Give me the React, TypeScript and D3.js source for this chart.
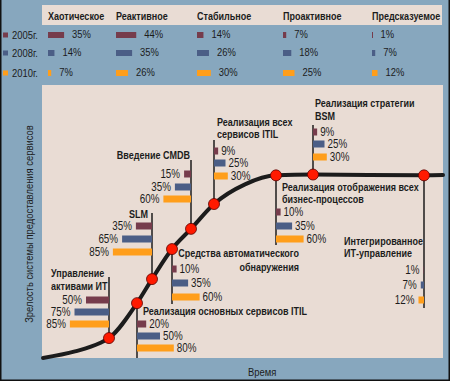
import React from 'react';
import * as d3 from 'd3';

// ---------- DATA ----------
const categories = ['Хаотическое', 'Реактивное', 'Стабильное', 'Проактивное', 'Предсказуемое'];
const years = ['2005г.', '2008г.', '2010г.'];
const share2005 = [35, 44, 14, 7, 1];
const share2008 = [14, 35, 26, 18, 7];
const share2010 = [7, 26, 30, 25, 12];

// S-curve of maturity over time (time 0..100, maturity 0..100)
const curveTime = [0, 8, 14.25, 16.5, 23.5, 27.25, 32.25, 37, 42.75, 50.5, 58.25, 67.5, 95.25, 100];
const curveLevel = [0, 2.4, 5.5, 7.3, 20.1, 28.9, 39.9, 47.3, 56.4, 63.6, 66.9, 67.2, 66.9, 67.0];

const milestoneTitles = [
  ['Управление', 'активами ИТ'],
  ['Реализация основных сервисов ITIL'],
  ['SLM'],
  ['Средства автоматического', 'обнаружения'],
  ['Введение CMDB'],
  ['Реализация всех', 'сервисов ITIL'],
  ['Реализация отображения всех', 'бизнес-процессов'],
  ['Реализация стратегии', 'BSM'],
  ['Интегрированное', 'ИТ-управление'],
];
const milestoneTime = [16.5, 23.5, 27.25, 32.25, 37, 42.75, 58.25, 67.5, 95.25];
const milestoneLevel = [7.3, 20.1, 28.9, 39.9, 47.3, 56.4, 66.9, 67.2, 66.9];
const milestone2005 = [50, 20, 35, 10, 15, 9, 10, 9, 1];
const milestone2008 = [75, 50, 65, 35, 35, 25, 35, 25, 7];
const milestone2010 = [85, 80, 85, 60, 60, 30, 60, 30, 12];

// ---------- LAYOUT (pixels, not data) ----------
const W = 450;
const H = 381;
const PANEL = { x: 42, y: 85, w: 401, h: 273 };
const HEADER = { x: 42, y: 5, w: 400, h: 20 };
const LEGEND_COL_X = [48, 116, 197, 283, 372];
const LEGEND_ROW_Y = [35, 53, 73];

type Side = 'left' | 'right';
const LAYOUT: { side: Side; stemTo: number; rows: number[]; tx: number; ty: number[]; anchor: string }[] = [
  { side: 'left', stemTo: 277, rows: [300, 312, 324], tx: 51, ty: [273, 286], anchor: 'start' },
  { side: 'right', stemTo: 358, rows: [324, 336, 348], tx: 143, ty: [311], anchor: 'start' },
  { side: 'left', stemTo: 213, rows: [226, 239, 252], tx: 148, ty: [214], anchor: 'end' },
  { side: 'right', stemTo: 304, rows: [269, 283, 297], tx: 299, ty: [253, 267], anchor: 'end' },
  { side: 'left', stemTo: 160, rows: [174, 187, 199], tx: 190, ty: [155], anchor: 'end' },
  { side: 'right', stemTo: 140, rows: [151, 163, 176], tx: 217, ty: [122, 134], anchor: 'start' },
  { side: 'right', stemTo: 245, rows: [212, 226, 239], tx: 282, ty: [187, 199], anchor: 'start' },
  { side: 'right', stemTo: 125, rows: [132, 144, 157], tx: 315, ty: [103, 116], anchor: 'start' },
  { side: 'left', stemTo: 308, rows: [270, 285, 300], tx: 344, ty: [241, 253], anchor: 'start' },
];

const COLORS = ['#763C4C', '#4B5E86', '#FF9E1B'];
const BG = '#87A7BE';
const BEIGE = '#E9DCD4';
const INK = '#1c1c1c';
const FONT = "'Liberation Sans', Arial, sans-serif";
const NARROW = 0.82;

function T(props: {
  x: number;
  y: number;
  size?: number;
  bold?: boolean;
  anchor?: string;
  rotate?: number;
  children: React.ReactNode;
}) {
  const { x, y, size = 11, bold = false, anchor = 'start', rotate = 0, children } = props;
  return (
    <text
      transform={`translate(${x},${y})${rotate ? ` rotate(${rotate})` : ''} scale(${NARROW},1)`}
      dominantBaseline="central"
      textAnchor={anchor as any}
      fontSize={size}
      fontWeight={bold ? 'bold' : 'normal'}
      fill={INK}
    >
      {children}
    </text>
  );
}

export default function App() {
  const x = d3.scaleLinear().domain([0, 100]).range([PANEL.x + 1, PANEL.x + PANEL.w]);
  const y = d3.scaleLinear().domain([0, 100]).range([PANEL.y + PANEL.h, PANEL.y]);
  const bw = d3.scaleLinear().domain([0, 100]).range([0, 46]);

  const curvePts: [number, number][] = curveTime.map((t, i) => [t, curveLevel[i]]);
  const line = d3
    .line<[number, number]>()
    .x((d) => x(d[0]))
    .y((d) => y(d[1]))
    .curve(d3.curveMonotoneX);

  const legendSeries = [share2005, share2008, share2010];
  const msSeries = [milestone2005, milestone2008, milestone2010];

  return (
    <svg
      width={W}
      height={H}
      viewBox={`0 0 ${W} ${H}`}
      style={{ position: 'absolute', left: 0, top: 0, display: 'block' }}
      fontFamily={FONT}
    >
      <rect x={0} y={0} width={W} height={H} fill={BG} />
      {/* header */}
      <rect x={HEADER.x} y={HEADER.y} width={HEADER.w} height={HEADER.h} fill={BEIGE} />
      {categories.map((c, i) => (
        <T key={c} x={LEGEND_COL_X[i]} y={HEADER.y + HEADER.h / 2 + 1} bold>
          {c}
        </T>
      ))}
      {/* legend rows */}
      {years.map((yr, r) => (
        <g key={yr}>
          <rect x={3} y={LEGEND_ROW_Y[r] - 2.5} width={5} height={5} fill={COLORS[r]} />
          <T x={12} y={LEGEND_ROW_Y[r]} size={11.5}>
            {yr}
          </T>
          {legendSeries[r].map((v, i) => (
            <g key={i}>
              <rect x={LEGEND_COL_X[i]} y={LEGEND_ROW_Y[r] - 3} width={Math.max(1, bw(v))} height={6} fill={COLORS[r]} />
              <T x={LEGEND_COL_X[i] + bw(v) + 8} y={LEGEND_ROW_Y[r] - 1} size={11.5}>
                {v}%
              </T>
            </g>
          ))}
        </g>
      ))}
      {/* main panel */}
      <rect x={PANEL.x} y={PANEL.y} width={PANEL.w} height={PANEL.h} fill={BEIGE} />
      <path d={line(curvePts) || ''} fill="none" stroke={INK} strokeWidth={4} strokeLinecap="round" />
      {milestoneTitles.map((title, i) => {
        const L = LAYOUT[i];
        const sx = x(milestoneTime[i]);
        const sy = y(milestoneLevel[i]);
        return (
          <g key={i}>
            <line x1={sx} x2={sx} y1={sy} y2={L.stemTo} stroke={INK} strokeWidth={1.5} />
            {msSeries.map((s, r) => {
              const w = bw(s[i]);
              const by = L.rows[r];
              const bx = L.side === 'left' ? sx - w : sx;
              const lx = L.side === 'left' ? sx - w - 4 : sx + w + 3;
              return (
                <g key={r}>
                  <rect x={bx} y={by - 3.5} width={w} height={7} fill={COLORS[r]} />
                  <T x={lx} y={by} size={12} anchor={L.side === 'left' ? 'end' : 'start'}>
                    {s[i]}%
                  </T>
                </g>
              );
            })}
            {title.map((t, k) => (
              <T key={k} x={L.tx} y={L.ty[k]} bold anchor={L.anchor}>
                {t}
              </T>
            ))}
          </g>
        );
      })}
      {milestoneTime.map((t, i) => (
        <circle key={i} cx={x(t)} cy={y(milestoneLevel[i])} r={5.5} fill="#FF1A00" stroke="#5a0000" strokeWidth={0.8} />
      ))}
      {/* axis titles */}
      <T x={248} y={372} size={11.5}>
        Время
      </T>
      <T x={29} y={224} size={11.5} anchor="middle" rotate={-90}>
        Зрелость системы предоставления сервисов
      </T>
      {/* frame */}
      <path d={`M0.75,0 V${H - 0.75} H${W - 0.75} V0`} fill="none" stroke="#111" strokeWidth={1.5} />
    </svg>
  );
}
